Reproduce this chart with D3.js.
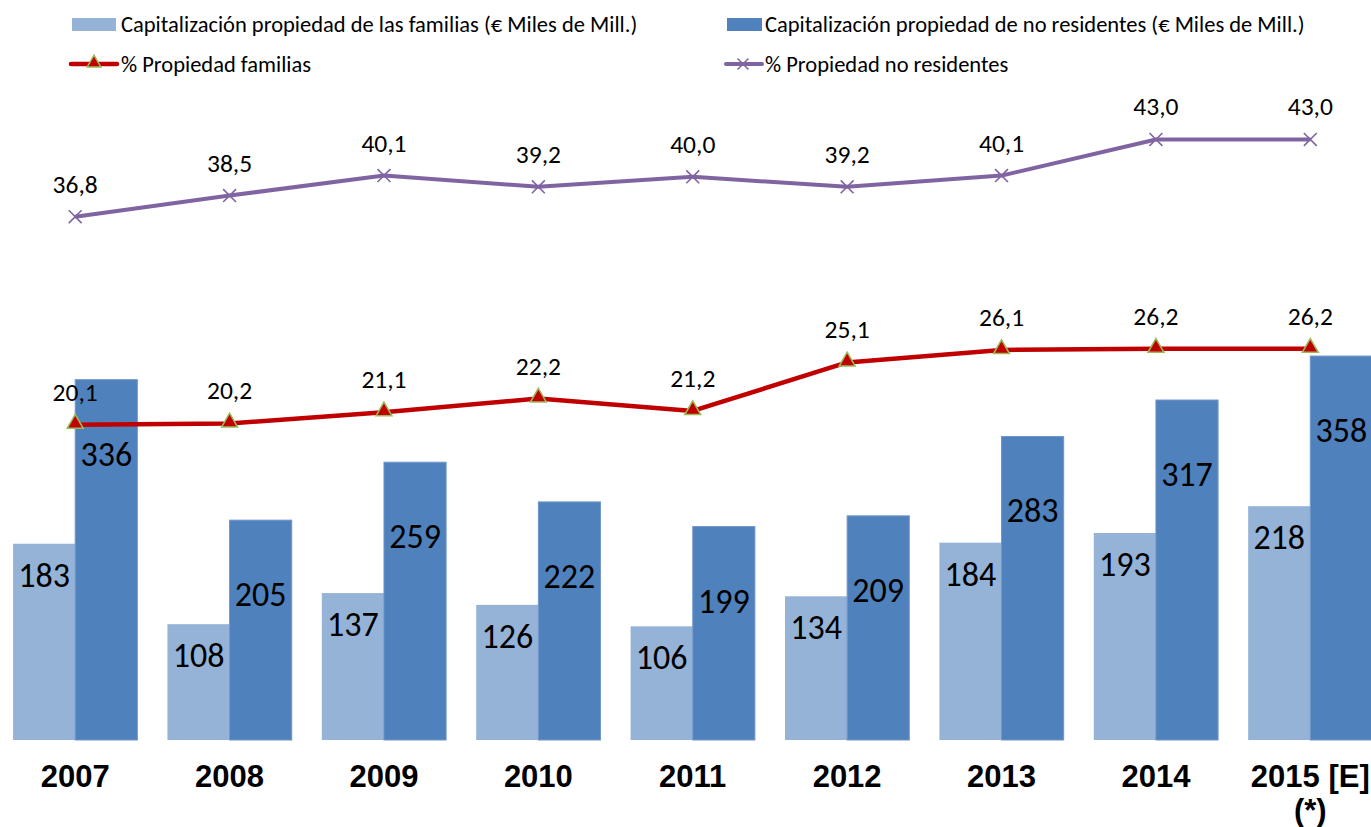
<!DOCTYPE html>
<html>
<head>
<meta charset="utf-8">
<script src="https://cdn.jsdelivr.net/npm/d3@7"></script>
<style>
  html, body { margin: 0; padding: 0; background: #fff; }
  svg { display: block; }
</style>
</head>
<body>
<svg id="chart" width="1371" height="827"></svg>
<script>
// Market capitalisation by owner (€ bn) and ownership share (%)
const years = ["2007", "2008", "2009", "2010", "2011", "2012", "2013", "2014", "2015 [E]|(*)"];
const capFamilias = [183, 108, 137, 126, 106, 134, 184, 193, 218];
const capNoResidentes = [336, 205, 259, 222, 199, 209, 283, 317, 358];
const pctFamilias = [20.1, 20.2, 21.1, 22.2, 21.2, 25.1, 26.1, 26.2, 26.2];
const pctNoResidentes = [36.8, 38.5, 40.1, 39.2, 40.0, 39.2, 40.1, 43.0, 43.0];

const legendLabels = [
  "Capitalización propiedad de las familias (€ Miles de Mill.)",
  "Capitalización propiedad de no residentes (€ Miles de Mill.)",
  "% Propiedad familias",
  "% Propiedad no residentes"
];

const colors = {
  light: "#95B3D7",
  dark: "#4F81BD",
  red: "#C00000",
  redEdge: "#9BBB59",
  purple: "#8064A2"
};

const svg = d3.select("#chart");
const fmtPct = v => v.toFixed(1).replace(".", ",");
const labelFont = "Carlito, Lato, 'Open Sans', sans-serif";

// Scales
const x = d3.scaleBand()
  .domain(years)
  .range([-2, 1387.5])
  .paddingInner(0.195)
  .paddingOuter(0.0975);

const sub = d3.scaleBand()
  .domain(["fam", "nores"])
  .range([0, x.bandwidth()]);

const yBar = d3.scaleLinear().domain([0, 690]).range([740, 0]);
const yPct = d3.scaleLinear().domain([0, 54.2]).range([675, 0]);

const cx = d => x(d) + x.bandwidth() / 2;

// Bars
const groups = svg.append("g").selectAll("g")
  .data(years)
  .join("g")
  .attr("transform", d => `translate(${x(d)},0)`);

groups.append("rect")
  .attr("x", sub("fam"))
  .attr("width", sub.bandwidth())
  .attr("y", (d, i) => yBar(capFamilias[i]))
  .attr("height", (d, i) => yBar(0) - yBar(capFamilias[i]))
  .attr("fill", colors.light);

groups.append("rect")
  .attr("x", sub("nores"))
  .attr("width", sub.bandwidth())
  .attr("y", (d, i) => yBar(capNoResidentes[i]))
  .attr("height", (d, i) => yBar(0) - yBar(capNoResidentes[i]))
  .attr("fill", colors.dark)
  .attr("stroke", "#7196CA")
  .attr("stroke-width", 1);

// Bar value labels
groups.append("text")
  .attr("x", sub("fam") + sub.bandwidth() / 2)
  .attr("y", (d, i) => yBar(capFamilias[i]) + 31 + 12)
  .attr("text-anchor", "middle")
  .attr("font-family", labelFont)
  .attr("font-size", 34)
  .attr("fill", "#000")
  .text((d, i) => capFamilias[i]);

groups.append("text")
  .attr("x", sub("nores") + sub.bandwidth() / 2)
  .attr("y", (d, i) => yBar(capNoResidentes[i]) + 74 + 12)
  .attr("text-anchor", "middle")
  .attr("font-family", labelFont)
  .attr("font-size", 34)
  .attr("fill", "#000")
  .text((d, i) => capNoResidentes[i]);

// Lines
const lineGen = vals => d3.line()
  .x((d, i) => cx(years[i]))
  .y(d => yPct(d))(vals);

svg.append("path")
  .attr("d", lineGen(pctNoResidentes))
  .attr("fill", "none")
  .attr("stroke", colors.purple)
  .attr("stroke-width", 4)
  .attr("stroke-linejoin", "round");

svg.append("path")
  .attr("d", lineGen(pctFamilias))
  .attr("fill", "none")
  .attr("stroke", colors.red)
  .attr("stroke-width", 4.5)
  .attr("stroke-linejoin", "round");

// Markers
const triangle = d3.symbol().type(d3.symbolTriangle).size(110);
const cross = d3.symbol().type(d3.symbolX).size(110);

svg.append("g").selectAll("path")
  .data(pctNoResidentes)
  .join("path")
  .attr("d", cross)
  .attr("transform", (d, i) => `translate(${cx(years[i])},${yPct(d)})`)
  .attr("fill", "none")
  .attr("stroke", colors.purple)
  .attr("stroke-width", 1.6);

svg.append("g").selectAll("path")
  .data(pctFamilias)
  .join("path")
  .attr("d", triangle)
  .attr("transform", (d, i) => `translate(${cx(years[i])},${yPct(d) - 1})`)
  .attr("fill", colors.red)
  .attr("stroke", colors.redEdge)
  .attr("stroke-width", 1.5);

// Percentage labels
[pctNoResidentes, pctFamilias].forEach(series => {
  svg.append("g").selectAll("text")
    .data(series)
    .join("text")
    .attr("x", (d, i) => cx(years[i]))
    .attr("y", d => yPct(d) - 24)
    .attr("text-anchor", "middle")
    .attr("font-family", labelFont)
    .attr("font-size", 25.5)
    .attr("fill", "#000")
    .text(d => fmtPct(d));
});

// Category axis labels
const xAxis = svg.append("g");
years.forEach(y => {
  const t = xAxis.append("text")
    .attr("x", cx(y))
    .attr("y", 787)
    .attr("text-anchor", "middle")
    .attr("font-family", "'Liberation Sans', Arial, sans-serif")
    .attr("font-weight", "bold")
    .attr("font-size", 31)
    .attr("fill", "#000");
  y.split("|").forEach((part, k) => {
    t.append("tspan")
      .attr("x", cx(y))
      .attr("dy", k === 0 ? 0 : 34)
      .text(part);
  });
});

// Legend
const legend = svg.append("g")
  .attr("font-family", labelFont)
  .attr("font-size", 22.5)
  .attr("fill", "#000");

// Row 1: bar swatches
legend.append("rect").attr("x", 72).attr("y", 18).attr("width", 44).attr("height", 13).attr("fill", colors.light);
legend.append("text").attr("x", 121).attr("y", 32).text(legendLabels[0]);
legend.append("rect").attr("x", 727).attr("y", 18).attr("width", 35).attr("height", 13).attr("fill", colors.dark);
legend.append("text").attr("x", 765).attr("y", 32).text(legendLabels[1]);

// Row 2: line samples
legend.append("line").attr("x1", 71).attr("x2", 117).attr("y1", 64).attr("y2", 64)
  .attr("stroke", colors.red).attr("stroke-width", 4.5).attr("stroke-linecap", "round");
legend.append("path").attr("d", d3.symbol().type(d3.symbolTriangle).size(80))
  .attr("transform", "translate(94,63)")
  .attr("fill", colors.red).attr("stroke", colors.redEdge).attr("stroke-width", 1.5);
legend.append("text").attr("x", 121).attr("y", 72).text(legendLabels[2]);

legend.append("line").attr("x1", 726).attr("x2", 762).attr("y1", 64).attr("y2", 64)
  .attr("stroke", colors.purple).attr("stroke-width", 4).attr("stroke-linecap", "round");
legend.append("path").attr("d", d3.symbol().type(d3.symbolX).size(80))
  .attr("transform", "translate(743,64)")
  .attr("fill", "none").attr("stroke", colors.purple).attr("stroke-width", 1.5);
legend.append("text").attr("x", 765).attr("y", 72).text(legendLabels[3]);
</script>
</body>
</html>
